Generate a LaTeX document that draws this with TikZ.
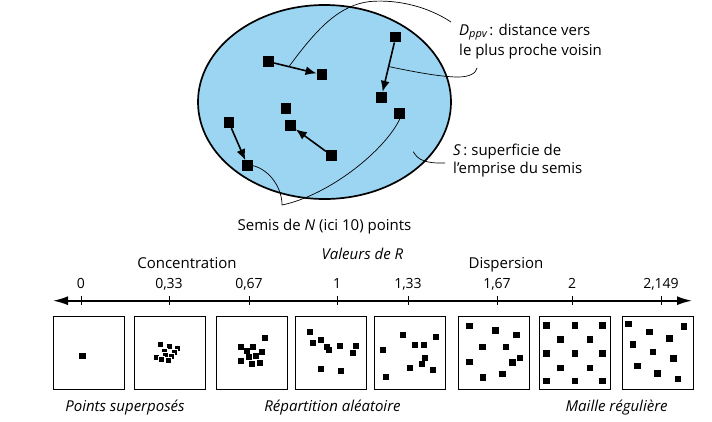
\documentclass[tikz,border=0pt]{standalone}
\usepackage{fontspec}
\setmainfont{Open Sans}
\usetikzlibrary{arrows.meta,calc}
\definecolor{seablue}{RGB}{155,213,242}
\begin{document}
\begin{tikzpicture}[x=1pt,y=-1pt,
  every node/.style={font=\fontsize{15}{18}\selectfont},
  dot/.style={rectangle,fill=black,minimum size=10.5pt,inner sep=0pt},
  arr/.style={line width=1.6pt,-{Latex[length=11pt,width=9pt]}},
  lead/.style={line width=0.7pt},
  box/.style={draw,line width=1.1pt,minimum width=71pt,minimum height=73pt,inner sep=0pt,anchor=north west},
  txt/.style={anchor=base,inner sep=0pt},
  ltxt/.style={anchor=base west,inner sep=0pt},
  ticklab/.style={anchor=base,inner sep=0pt,font=\fontsize{14}{16}\selectfont},
  tick/.style={line width=0.8pt}
]
\useasboundingbox (0,0) rectangle (712,421);
% ---------- ellipse ----------
\draw[fill=seablue,line width=1.7pt] (324.5,102) ellipse [x radius=126.5, y radius=97];
\node[dot] (p1) at (268.7,61.7) {};
\node[dot] (p2) at (322,74.7) {};
\node[dot] (p3) at (395.7,37) {};
\node[dot] (p4) at (381.3,97.3) {};
\node[dot] (p5) at (286,108.3) {};
\node[dot] (p6) at (290.3,125.3) {};
\node[dot] (p7) at (229,122.7) {};
\node[dot] (p8) at (247.7,165.7) {};
\node[dot] (p9) at (331.3,155.3) {};
\node[dot] (p10) at (399.7,113.7) {};
\draw[arr] (p1) -- (p2);
\draw[arr] (p3) -- (p4);
\draw[arr] (p9) -- (p6);
\draw[arr] (p7) -- (p8);
% ---------- leaders ----------
\coordinate (c1) at ($(p1)!0.38!(p2)$);
\coordinate (c2) at ($(p3)!0.49!(p4)$);
\coordinate (v) at (282,205);
\coordinate (s1) at (413.3,151.7);
\draw[lead] (c1) .. controls (318,27) and (340,5) .. (370,1.5) .. controls (400,-1) and (430,8) .. (451,22);
\draw[lead] (c2) .. controls (410,71) and (440,77) .. (458,77) .. controls (470,77) and (476,73) .. (477,68);
\draw[lead] (s1) .. controls (418,160) and (425,163.5) .. (445,163);
\draw[lead] (p8.east) .. controls (270,170) and (282,188) .. (v);
\draw[lead] (v) .. controls (330,195) and (385,150) .. (p10.south);
% ---------- labels top ----------
\node[ltxt] (dppv) at (459,35) {\textit{D}\raisebox{-0.35ex}{\fontsize{11}{12}\selectfont\itshape ppv}\,: distance vers};
\node[ltxt] (dppv2) at (459,55) {le plus proche voisin};
\node[ltxt] (slab) at (453,155) {\textit{S}\,: superficie de};
\node[ltxt] (slab2) at (453,173) {l’emprise du semis};
\node[txt] (semis) at (324.5,230) {Semis de \textit{N} (ici 10) points};
% ---------- axis ----------
\node[txt] (val) at (362.5,259) {\textit{Valeurs de R}};
\node[txt] (conc) at (187,268) {Concentration};
\node[txt] (disp) at (506,268) {Dispersion};
\coordinate (axL) at (53,300.7);
\coordinate (axR) at (692,300.7);
\draw[line width=1.7pt,{Latex[length=15pt,width=9pt]}-{Latex[length=15pt,width=9pt]}] (axL) -- (axR);
\foreach \x/\l [count=\i] in {81/0,169/{0,33},249/{0,67},337/1,408/{1,33},497/{1,67},572/2,661/{2,149}}{
  \coordinate (t\i) at (\x,300.7);
  \draw[tick] ($(t\i)+(0,-4.5)$) -- ($(t\i)+(0,4.5)$);
  \node[ticklab] (tl\i) at (\x,288) {\l};
}
% ---------- boxes ----------
\node[box] (b1) at (53,316) {};
\node[box] (b2) at (134.3,316) {};
\node[box] (b3) at (216.3,316) {};
\node[box] (b4) at (294.7,316) {};
\node[box] (b5) at (374,316) {};
\node[box] (b6) at (458.3,316) {};
\node[box] (b7) at (539.3,316) {};
\node[box] (b8) at (622.3,316) {};
% box 1
\begin{scope}[shift={(b1.north west)}]
  \fill (26.1,36.8) rectangle ++(6.4,6.4);
\end{scope}
% box 2 (concentrated)
\begin{scope}[shift={(b2.north west)}]
  \foreach \x/\y in {26/28,35/30,43/32,22/41,30/35,40/36,31/39,37/40,27/43,34/44}
    \filldraw[fill=black,draw=white,line width=0.6pt] (\x-3.2,\y-3.2) rectangle ++(6.4,6.4);
\end{scope}
% box 3
\begin{scope}[shift={(b3.north west)}]
  \foreach \x/\y in {48.3/22.3,24.7/30.7,36.3/31.3,30.7/35.3,45.7/36.3,32.7/41.3,39.3/40,24.7/45,36/48.3,43.7/47.3}
    \fill (\x-3,\y-3) rectangle ++(6,6);
\end{scope}
% box 4
\begin{scope}[shift={(b4.north west)}]
  \foreach \x/\y in {15/16.3,18/27.3,26/24,32/31.3,34.7/34.3,45/30,61/30.3,58/37.3,26/53.3,46/55.3}
    \fill (\x-3,\y-3) rectangle ++(6,6);
\end{scope}
% box 5
\begin{scope}[shift={(b5.north west)}]
  \foreach \x/\y in {29.3/19.3,62/21.3,9/34.3,41/29.3,50/28.7,51/42.3,48/48.3,36/52.3,59/53.7,12/61.3}
    \fill (\x-3,\y-3) rectangle ++(6,6);
\end{scope}
% box 6
\begin{scope}[shift={(b6.north west)}]
  \foreach \x/\y in {11.3/10,37.3/14.3,58.3/19,24.3/31,47.7/31,11/45.7,54/46.3,61.7/41.7,24.7/61.3,44.3/57.7}
    \fill (\x-3.2,\y-3.2) rectangle ++(6.4,6.4);
\end{scope}
% box 7 (regular grid)
\begin{scope}[shift={(b7.north west)}]
  \foreach \x/\y in {7.3/9.3,35.7/9.3,63.3/9.3,21/23.3,50.7/23.3,7.3/37.3,35.7/37.3,63.3/37.3,21/52,50.7/52,7.3/65,35.7/65,63.3/65}
    \fill (\x-3.2,\y-3.2) rectangle ++(6.4,6.4);
\end{scope}
% box 8
\begin{scope}[shift={(b8.north west)}]
  \foreach \x/\y in {6/7.7,27/15.7,61.7/10.3,47/22.3,10.7/28.3,30.7/36,51.3/42.3,15.3/49.7,35.3/57.3,55.7/62.7}
    \fill (\x-3.2,\y-3.2) rectangle ++(6.4,6.4);
\end{scope}
% ---------- bottom labels ----------
\node[txt] (lab1) at (125,411.7) {\textit{Points superposés}};
\node[txt] (lab2) at (332.5,411.7) {\textit{Répartition aléatoire}};
\node[txt] (lab3) at (616.7,411.7) {\textit{Maille régulière}};
\end{tikzpicture}
\end{document}
